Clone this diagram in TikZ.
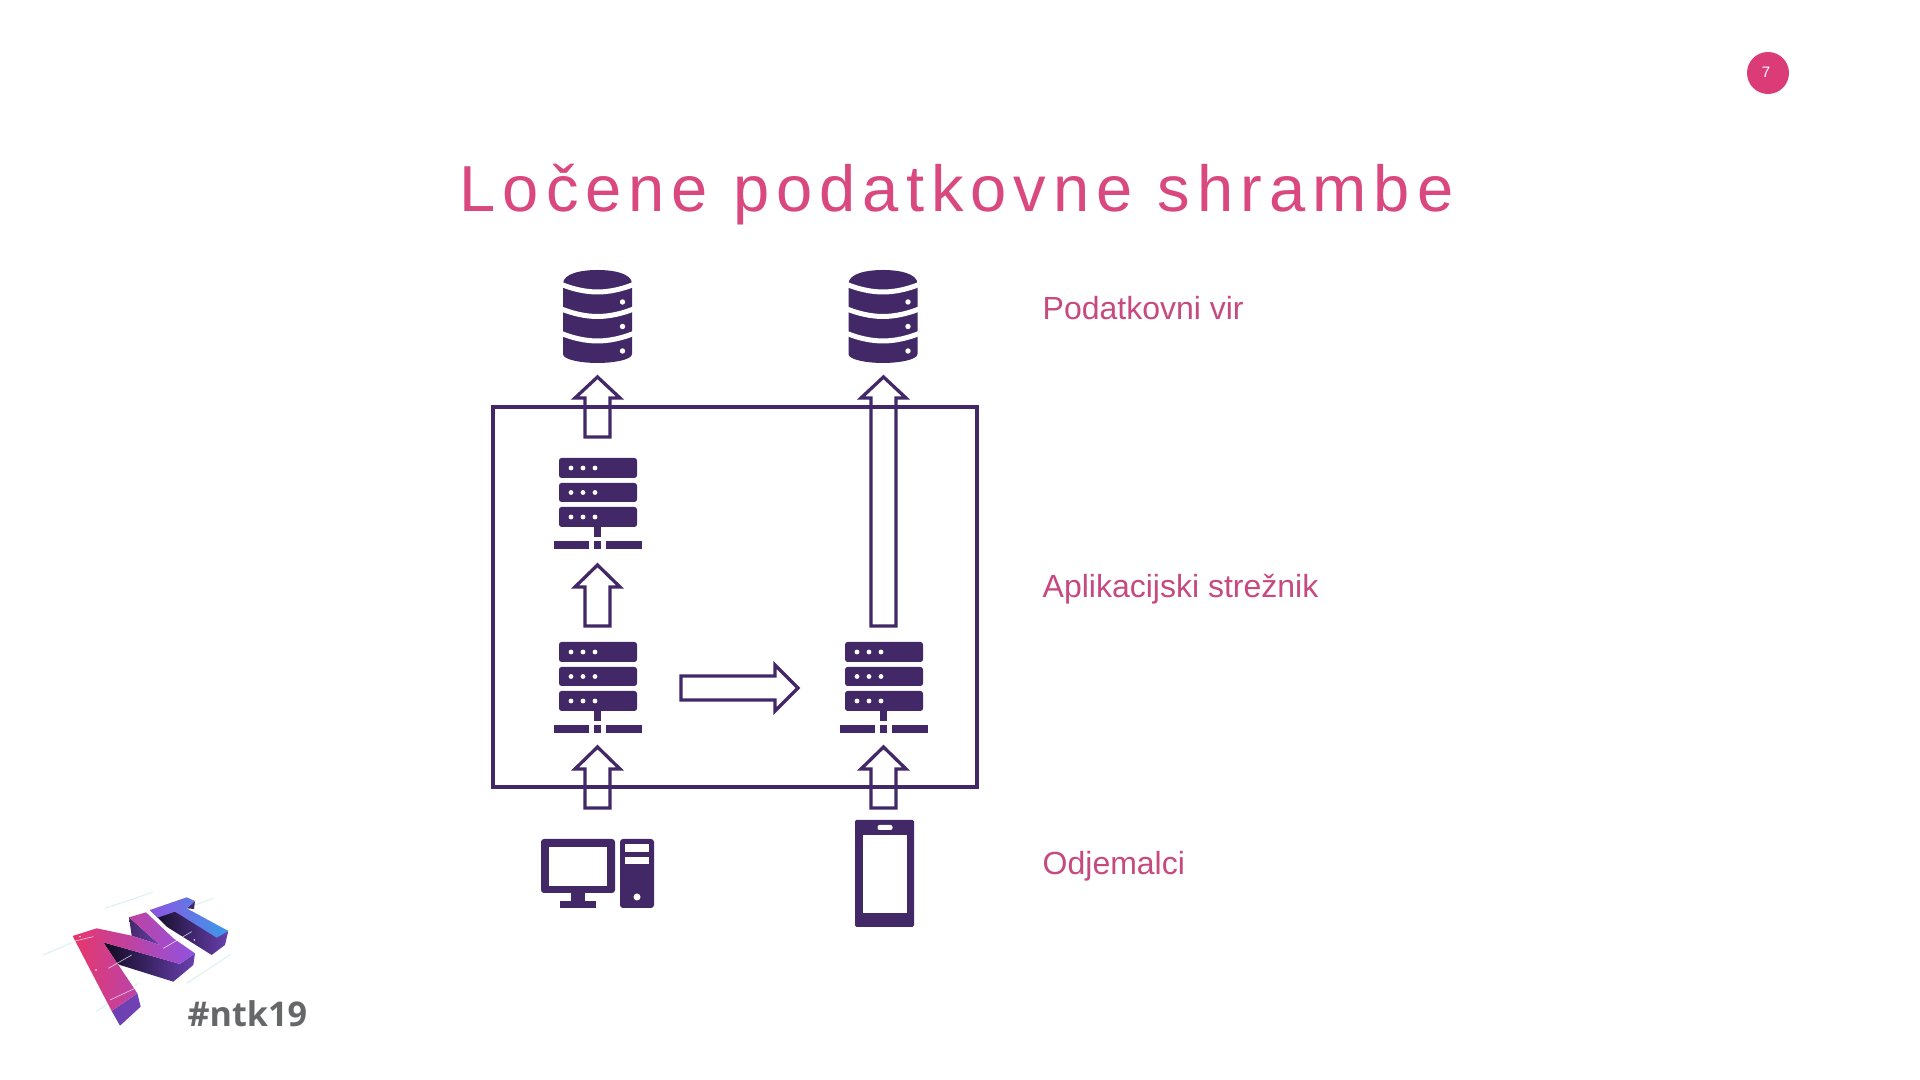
\documentclass[tikz,border=0pt]{standalone}
\usepackage{fontspec}
\setmainfont{Liberation Sans}
\newfontfamily\tagfont{Open Sans}
\definecolor{dkp}{HTML}{432868}
\definecolor{pnk}{HTML}{C64A80}
\definecolor{ttl}{HTML}{D9487F}
\definecolor{badge}{HTML}{DB3C78}
\definecolor{tagc}{HTML}{666769}
\definecolor{guide}{HTML}{D5EEF2}
\definecolor{lgred}{HTML}{E8366A}
\definecolor{lgvio}{HTML}{8F52E2}
\definecolor{lgblu}{HTML}{3A9BE8}
\definecolor{lgdrk}{HTML}{0F0A20}
\definecolor{lgmid}{HTML}{6A40B0}
\tikzset{
  x=0.01cm,y=-0.01cm,
  icon/.style={fill=dkp,draw=none},
  hole/.style={fill=white,draw=none},
  blockarrow/.style={draw=dkp,line width=3.3*0.01cm,fill=none,miter limit=10},
  tier/.style={text=pnk,font=\fontsize{9.1pt}{11pt}\selectfont,anchor=west,inner sep=0pt},
  srv/.pic={
    \foreach \ya/\yb/\yd in {0/20/10,25/44/34.5,49/69/59}{
      \fill[icon,rounded corners=2.6*0.01cm] (-39,\ya) rectangle (39,\yb);
      \foreach \xd in {-27,-15,-3}{\fill[hole] (\xd,\yd) circle (2.4);}
    }
    \fill[icon] (-4,69) rectangle (3,79);
    \fill[icon] (-44,83) rectangle (-9,91);
    \fill[icon] (-4,83) rectangle (3,91);
    \fill[icon] (8,83) rectangle (44,91);
  },
  dbs/.pic={
    \fill[icon] (-34.5,14) .. controls (-34.5,3) and (-15,0) .. (0,0) .. controls (15,0) and (34.5,3) .. (34.5,14)
      -- (34.5,84) .. controls (34.5,90) and (15,93) .. (0,93) .. controls (-15,93) and (-34.5,90) .. (-34.5,84) -- cycle;
    \foreach \yy in {0,24.5,49}{
      \draw[white,line width=5*0.01cm] (-36,14.5+\yy) .. controls (-25,19+\yy) and (-12,22+\yy) .. (0,22+\yy) .. controls (12,22+\yy) and (25,19+\yy) .. (36,14.5+\yy);
      \fill[hole] (25,32+\yy) circle (2.7);
    }
  }
}
\newcommand{\UpArr}[5]{% name,cx,tip,headbase,bottom
  \draw[blockarrow] (#2,#3) -- (#2+22.5,#4) -- (#2+12.5,#4) -- (#2+12.5,#5) -- (#2-12.5,#5) -- (#2-12.5,#4) -- (#2-22.5,#4) -- cycle;
  \coordinate (#1) at (#2,#5);
}
\begin{document}
\begin{tikzpicture}
\useasboundingbox[fill=white] (0,0) rectangle (1920,1080);
% badge
\fill[badge] (1768,73) circle (21);
\node[text=white,font=\fontsize{4.3pt}{5pt}\selectfont,inner sep=0pt] (pg) at (1766,72) {7};
% title
\node[text=ttl,font=\fontsize{18.5pt}{22pt}\selectfont\addfontfeature{LetterSpace=10.8},anchor=base west,inner sep=0pt] (title) at (459,212) {Ločene podatkovne shrambe};
% tier box
\draw[draw=dkp,line width=3.3*0.01cm] (493,407) rectangle (977,787);
% databases
\pic at (597.5,270) {dbs};
\pic at (883,270) {dbs};
% servers
\pic at (598,458) {srv};
\pic at (598,642) {srv};
\pic at (884,642) {srv};
% arrows
\UpArr{a1}{597.5}{377}{398}{437}
\UpArr{a2}{597.5}{565}{587}{626}
\UpArr{a3}{597.5}{747}{769}{808}
\UpArr{a4}{883.5}{377}{398}{626}
\UpArr{a5}{883.5}{747}{769}{808}
\draw[blockarrow] (681,676) -- (775,676) -- (775,665) -- (798,688) -- (775,711) -- (775,700) -- (681,700) -- cycle;
% desktop
\fill[icon,rounded corners=3*0.01cm] (541,839) rectangle (615,893);
\fill[hole] (549,847) rectangle (607,886);
\fill[icon] (571,893) rectangle (585,901);
\fill[icon] (560,901) rectangle (596,908);
\fill[icon,rounded corners=3*0.01cm] (620,839) rectangle (654,908);
\fill[hole] (625,844) rectangle (649,852);
\fill[hole] (625,857) rectangle (649,864);
\fill[hole] (637,897) circle (3.5);
% phone
\fill[icon,rounded corners=1.5*0.01cm] (855,820) rectangle (914,927);
\fill[hole] (863,835) rectangle (907,913);
\fill[hole,rounded corners=2*0.01cm] (877.5,825) rectangle (892.5,830);
% labels
\node[tier] (l1) at (1042,308) {Podatkovni vir};
\node[tier] (l2) at (1042,589) {Aplikacijski strežnik};
\node[tier] (l3) at (1042,866) {Odjemalci};
% logo
\begin{scope}[shift={(60,885)},x=0.01cm/3,y=-0.01cm/3]
  \foreach \a/\b/\c/\d in {-51/210/38/172,135/70/278/22,380/295/512/208,108/380/235/295,380/70/460/40}
    {\draw[guide,line width=0.008cm] (\a,\b) -- (\c,\d);}
  % N bottom side
  \shade[left color=lgmid,right color=lgvio!80!black] (155,378) -- (232,325) -- (242,365) -- (180,422) -- cycle;
  % N dark sides
  \shade[left color=lgdrk,right color=lgmid] (130,172) -- (360,237) -- (405,205) -- (400,240) -- (340,290) -- (180,240) -- (172,236) -- cycle;
  \shade[left color=dkp,right color=lgmid] (207,97) -- (215,152) -- (300,180) -- cycle;
  % N top face
  \shade[left color=lgred,right color=lgvio] (38,153) -- (110,130) -- (215,152) -- (300,180) -- (207,97) -- (258,82) -- (340,160) -- (405,205) -- (360,237) -- (130,172) -- (232,325) -- (155,378) -- cycle;
  % T dark sides
  \shade[left color=lgdrk,right color=lgmid] (270,75) -- (320,125) -- (455,210) -- (495,180) -- (505,138) -- (345,80) -- cycle;
  \fill[dkp] (380,70) -- (405,48) -- (402,72) -- cycle;
  % T top face
  \shade[left color=lgvio,right color=lgblu] (270,75) -- (380,37) -- (405,48) -- (380,70) -- (505,138) -- (470,158) -- (345,80) -- (293,98) -- cycle;
  \foreach \p in {(60,155),(108,255),(403,165)}{\fill[white] \p circle (2.5);}
  \foreach \a/\b/\c/\d in {150/345/225/310,310/190/395/140,145/250/215/210,45/168/100/155}
    {\draw[white,opacity=.75,line width=0.006cm] (\a,\b) -- (\c,\d);}
\end{scope}
\node[text=tagc,font=\tagfont\bfseries\fontsize{9.7pt}{12pt}\selectfont,anchor=base west,inner sep=0pt] (tag) at (187,1027) {\#ntk19};
\end{tikzpicture}
\end{document}
